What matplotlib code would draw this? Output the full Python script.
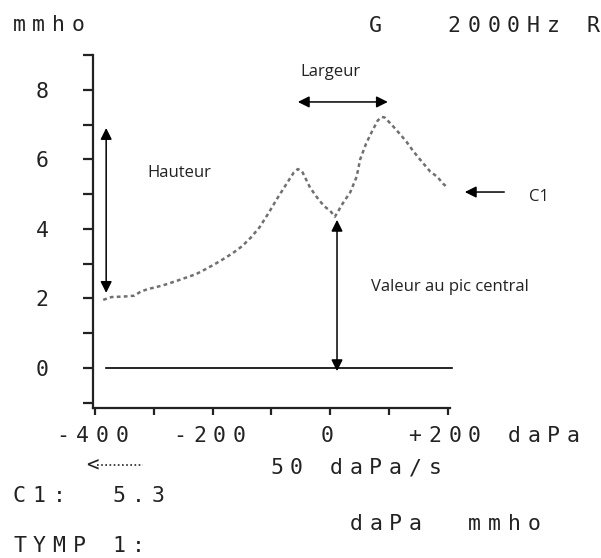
import matplotlib
matplotlib.use('Agg')
import matplotlib.pyplot as plt
from matplotlib.lines import Line2D

# tympanogram curve
pressure = [-386, -372, -358, -346, -333, -322, -310, -295, -280, -262, -245, -228,
            -211, -195, -180, -166, -150, -135, -120, -105, -91, -76, -62, -55, -48,
            -34, -20, -10, 0, 8, 15, 22, 34, 45, 51, 61, 71, 81, 88, 93, 107, 120,
            130, 141, 155, 170, 182, 192, 200]
admittance = [1.96, 2.04, 2.05, 2.06, 2.08, 2.2, 2.27, 2.33, 2.4, 2.5, 2.6, 2.7,
              2.85, 3.0, 3.15, 3.3, 3.5, 3.75, 4.05, 4.45, 4.85, 5.25, 5.62, 5.72, 5.66,
              5.18, 4.85, 4.65, 4.52, 4.35, 4.55, 4.75, 5.05, 5.5, 6.0, 6.45, 6.8, 7.12, 7.22, 7.2, 6.95, 6.7,
              6.5, 6.24, 5.95, 5.65, 5.5, 5.3, 5.18]

x_ticks = [-400, -300, -200, -100, 0, 100, 200]
x_labels = {-400: '-400', -200: '-200', 0: '0', 200: '+200 daPa'}
y_ticks = list(range(-1, 10))
y_labels = ['', '0', '', '2', '', '4', '', '6', '', '8', '']

W, H = 601, 558
ink = '#222222'
mono_font = 'DejaVu Sans Mono'
note_font = 'Open Sans'
PITCH = 19.8
SIZE = 15.5

fig = plt.figure(figsize=(W / 100, H / 100), dpi=100)
ax = fig.add_axes([93 / W, 1 - 408 / H, (449.5 - 93) / W, (408 - 55) / H])
ax.set_xlim(-403.4, 202.9)
ax.set_ylim(-1.15, 9.0)


def mono(x0, base, s):
    # printer font: fixed pitch, one glyph at a time (pixel coords from top left)
    for i, ch in enumerate(s):
        if ch != ' ':
            fig.text((x0 + i * PITCH) / W, 1 - base / H, ch, ha='center', va='baseline',
                     family=mono_font, fontsize=SIZE, color=ink)


for side in ['top', 'right']:
    ax.spines[side].set_visible(False)
for side in ['left', 'bottom']:
    ax.spines[side].set_linewidth(1.6)
    ax.spines[side].set_color(ink)

ax.set_xticks(x_ticks)
ax.set_xticklabels([])
ax.tick_params(axis='x', direction='out', length=5, width=1.6, color=ink)
ax.set_yticks(y_ticks)
ax.set_yticklabels(y_labels, family=mono_font, fontsize=SIZE, color=ink)
ax.tick_params(axis='y', direction='out', length=7, width=1.6, color=ink, pad=25)

ax.plot(pressure, admittance, color='#707070', lw=1.8, ls=(0, (1.5, 1.3)))

# zero reference line
ax.plot([-381, 207], [0, 0], color='black', lw=1.2, clip_on=False)


def arrow(tail, tip, style='<|-|>'):
    ax.annotate('', xy=tip, xytext=tail, annotation_clip=False,
                arrowprops=dict(arrowstyle=style, color='black', lw=1.1,
                                mutation_scale=17, shrinkA=0, shrinkB=0))


arrow((-55, 7.65), (98, 7.65))
arrow((-381, 6.9), (-381, 2.16))
arrow((11.6, 4.26), (11.6, -0.09))
arrow((296, 5.06), (229, 5.06), style='-|>')

ax.text(-0.3, 8.52, 'Largeur', ha='center', va='center', family=note_font, fontsize=12, color=ink)
ax.text(-257, 5.61, 'Hauteur', ha='center', va='center', family=note_font, fontsize=12, color=ink)
ax.text(355, 4.92, 'C1', ha='center', va='center', family=note_font, fontsize=12, color=ink,
        clip_on=False)
ax.text(203, 2.33, 'Valeur au pic central', ha='center', va='center', family=note_font,
        fontsize=12, color=ink, clip_on=False)

# header
mono(19, 31, 'mmho')
mono(375, 32, 'G   2000Hz R')

# x tick labels, number part centred on its tick
fig.canvas.draw()
for v, s in x_labels.items():
    px = ax.transData.transform((v, 0))[0]
    n = len(s.split()[0])
    mono(px - (n - 1) / 2 * PITCH - 3, 442, s)

# scan direction and speed
fig.text(92 / W, 1 - 465 / H, '<', ha='center', va='center', family=mono_font,
         fontsize=15, color=ink)
fig.add_artist(Line2D([97 / W, 143 / W], [1 - 465 / H, 1 - 465 / H], color=ink,
                      lw=1.2, ls=(0, (1, 1.5))))
mono(276.5, 474, '50 daPa/s')

mono(19.5, 502, 'C1:  5.3')
mono(356, 530, 'daPa  mmho')
mono(19.5, 552, 'TYMP 1:')

fig.savefig('out.png', dpi=100)
